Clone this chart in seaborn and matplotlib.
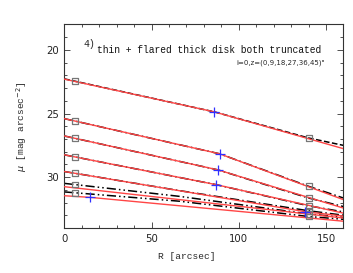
import numpy as np
import pandas as pd
import matplotlib
matplotlib.use('Agg')
import matplotlib.pyplot as plt
import seaborn as sns

sns.set_style('ticks')
plt.rcParams['font.family'] = ['DejaVu Sans']

# measured profiles (black), one per height
prof_R = [[0, 86, 140, 160],
          [0, 89, 140, 160],
          [0, 88, 140, 160],
          [0, 87, 140, 160],
          [0, 66, 140, 160],
          [0, 66, 140, 160],
          [0, 66, 140, 160]]
prof_mu = [[22.28, 24.87, 26.92, 27.50],
           [25.40, 28.16, 30.71, 31.63],
           [26.76, 29.42, 31.63, 32.30],
           [28.24, 30.58, 32.24, 32.72],
           [29.55, 31.05, 32.63, 32.98],
           [30.48, 31.50, 32.88, 33.15],
           [31.15, 31.88, 33.08, 33.30]]
prof_style = ['--', (0, (6, 2, 1, 2)), (0, (6, 2, 1, 2)), (0, (6, 2, 1, 2)),
              (0, (6, 2, 1, 2)), (0, (6, 2, 1, 2, 1, 2)), (0, (6, 2, 1, 2, 1, 2))]

# broken-exponential fits (red)
fit_R = [[0, 86, 160], [0, 89, 160], [0, 88, 160], [0, 87, 160],
         [0, 138, 160], [0, 160], [0, 15, 160]]
fit_mu = [[22.30, 24.87, 27.76], [25.40, 28.16, 31.76], [26.76, 29.42, 32.42],
          [28.24, 30.58, 32.82], [29.55, 32.70, 33.05], [30.74, 33.20],
          [31.45, 31.58, 33.45]]

# break radii (blue crosses)
brk_R = [86, 89, 88, 87, 138, 15]
brk_mu = [24.87, 28.16, 29.42, 30.58, 32.70, 31.58]

# fit-range markers (squares)
sq_R_in = 6
sq_R_out = 140

fig, ax = plt.subplots(figsize=(3.53, 2.73), dpi=100)
fig.subplots_adjust(left=0.182, right=0.973, bottom=0.164, top=0.911)

for R, mu, ls in zip(prof_R, prof_mu, prof_style):
    df = pd.DataFrame({'R': R, 'mu': mu})
    sns.lineplot(data=df, x='R', y='mu', ax=ax, color='black', lw=1.1,
                 linestyle=ls, estimator=None, sort=False)
    sq = pd.DataFrame({'R': [sq_R_in, sq_R_out],
                       'mu': np.interp([sq_R_in, sq_R_out], R, mu)})
    sns.scatterplot(data=sq, x='R', y='mu', ax=ax, marker='s', s=18,
                    facecolor='none', edgecolor='#777777', linewidth=0.9, zorder=4)

for R, mu in zip(fit_R, fit_mu):
    df = pd.DataFrame({'R': R, 'mu': mu})
    sns.lineplot(data=df, x='R', y='mu', ax=ax, color='#ff4545', lw=1.0,
                 estimator=None, sort=False, zorder=3)

brk = pd.DataFrame({'R': brk_R, 'mu': brk_mu})
sns.scatterplot(data=brk, x='R', y='mu', ax=ax, marker='+', s=60,
                color='#3030ff', linewidth=0.9, zorder=5)

ax.set_xlim(0, 160)
ax.set_ylim(34, 18)
ax.set_xticks([0, 50, 100, 150])
ax.set_xticks(np.arange(0, 161, 10), minor=True)
ax.set_yticks([20, 25, 30])
ax.set_yticks(np.arange(18, 35, 1), minor=True)
ax.tick_params(which='both', direction='in', top=True, right=True,
               labelsize=7.3, width=0.6, color='#333333', labelcolor='#222222')
ax.tick_params(which='major', length=4, pad=4)
ax.tick_params(which='minor', length=2.2)
for sp in ax.spines.values():
    sp.set_linewidth(0.8)
    sp.set_color('#333333')

mono = 'Liberation Mono'
ax.set_xlabel('R [arcsec]', family=mono, fontsize=6.8)
ax.xaxis.set_label_coords(0.44, -0.115)
ax.set_ylabel(r'$\mu$ [mag arcsec$^{-2}$]', family=mono, fontsize=6.8)
ax.yaxis.set_label_coords(-0.125, 0.5)

ax.text(0.068, 0.905, '4)', transform=ax.transAxes, family=mono, fontsize=7,
        va='center')
ax.text(0.117, 0.874, 'thin + flared thick disk both truncated',
        transform=ax.transAxes, family=mono, fontsize=6.9, va='center',
        color='#111111')
ax.text(0.935, 0.812, 'i=0,z=(0,9,18,27,36,45)"', transform=ax.transAxes,
        fontsize=5, ha='right', va='center')

fig.savefig('out.png', dpi=100)
